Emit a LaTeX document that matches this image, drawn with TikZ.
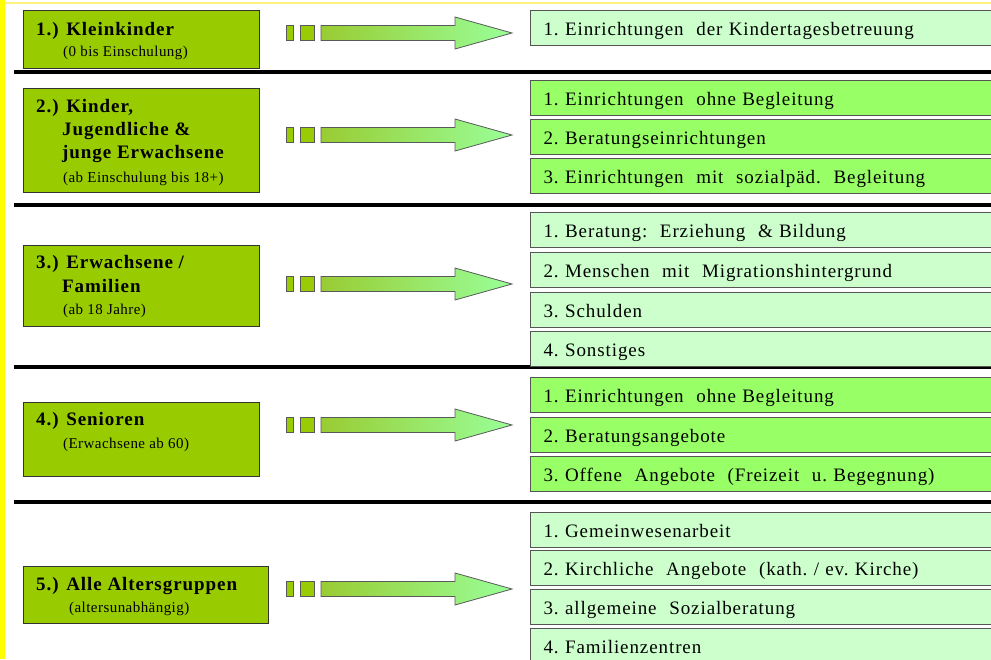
\documentclass[tikz,border=0pt]{standalone}
\usepackage{fontspec}
\setmainfont{Liberation Serif}
\newfontfamily\rightfont[LetterSpace=4.8]{Liberation Serif}
\newfontfamily\titlefont[LetterSpace=5]{Liberation Serif}
\newfontfamily\subfont[LetterSpace=3]{Liberation Serif}
\usetikzlibrary{shadings}
\definecolor{leftgreen}{HTML}{99CC00}
\definecolor{lightbox}{HTML}{CCFFCC}
\definecolor{brightbox}{HTML}{99FF66}
\definecolor{arrowA}{HTML}{99CC33}
\definecolor{arrowB}{HTML}{99FF99}
\definecolor{boxline}{HTML}{555555}
\definecolor{barYellow}{HTML}{FFFF00}
\definecolor{topYellow}{HTML}{FFF380}
\tikzset{
  lbox/.style={draw=black!80, line width=0.9pt, fill=leftgreen, anchor=north west, inner sep=0pt},
  rbox/.style={draw=boxline, line width=1.2pt, anchor=north west, minimum height=35pt,
     text width=440pt, inner xsep=13pt, inner ysep=0pt, align=left,
     text height=17pt, text depth=2pt,
     font=\rightfont\fontsize{19}{22}\selectfont},
  rlight/.style={rbox, fill=lightbox},
  rbright/.style={rbox, fill=brightbox},
  ttl/.style={anchor=base west, inner sep=0pt, font=\titlefont\bfseries\fontsize{19}{22}\selectfont},
  sub/.style={anchor=base west, inner sep=0pt, font=\subfont\fontsize{15}{17}\selectfont},
  rulebar/.style={line width=4pt, black},
  sq/.style={draw=black!65, line width=0.8pt, fill=leftgreen!90!arrowA},
  arr/.style={draw=black!65, line width=0.8pt, left color=arrowA, right color=arrowB},
}
\newcommand\arrowrow[2]{%
  \path[sq] (286,#2-7.5) rectangle (293,#2+7.5);
  \path[sq] (300,#2-7.5) rectangle (314,#2+7.5);
  \path[arr] (321,#2-7.5) -- (455,#2-7.5) -- (455,#2-16) -- (512,#2) -- (455,#2+16) -- (455,#2+7.5) -- (321,#2+7.5) -- cycle;
  \coordinate (#1) at (512,#2);
}
\begin{document}
\begin{tikzpicture}[x=1pt,y=-1pt]
\useasboundingbox (0,0) rectangle (991,659);
\fill[white] (0,0) rectangle (991,659);
% yellow margins
\fill[barYellow] (0,0) rectangle (5,659);
\draw[topYellow, line width=1.2pt] (5,3) -- (991,3);
% rules
\draw[rulebar] (14,72) -- (991,72);
\draw[rulebar] (14,205) -- (991,205);
\draw[rulebar] (14,367) -- (991,367);
\draw[rulebar] (14,502) -- (991,502);
% left boxes
\node[lbox, minimum width=236pt, minimum height=58pt] (L1) at (23,10) {};
\node[lbox, minimum width=236pt, minimum height=104pt] (L2) at (23,88) {};
\node[lbox, minimum width=236pt, minimum height=81pt] (L3) at (23,245) {};
\node[lbox, minimum width=236pt, minimum height=74pt] (L4) at (23,402) {};
\node[lbox, minimum width=245pt, minimum height=57pt] (L5) at (23,566) {};
% left texts
\node[ttl] (t1) at (36,35) {1.) Kleinkinder};
\node[sub] (s1) at (63,56) {(0 bis Einschulung)};
\node[ttl] (t2a) at (36,112) {2.) Kinder,};
\node[ttl] (t2b) at (62,135) {Jugendliche \&};
\node[ttl] (t2c) at (62,158) {junge Erwachsene};
\node[sub] (s2) at (63,182) {(ab Einschulung bis 18+)};
\node[ttl] (t3a) at (36,268) {3.) Erwachsene /};
\node[ttl] (t3b) at (62,292) {Familien};
\node[sub] (s3) at (63,314) {(ab 18 Jahre)};
\node[ttl] (t4) at (36,425) {4.) Senioren};
\node[sub] (s4) at (63,448) {(Erwachsene ab 60)};
\node[ttl] (t5) at (36,590) {5.) Alle Altersgruppen};
\node[sub] (s5) at (69,612) {(altersunabhängig)};
% arrows
\arrowrow{a1}{33}
\arrowrow{a2}{135}
\arrowrow{a3}{284}
\arrowrow{a4}{425}
\arrowrow{a5}{589}
% right boxes
\node[rlight] (r11) at (530,10) {1.\ Einrichtungen\ \ der Kindertagesbetreuung};
\node[rbright] (r21) at (530,80) {1.\ Einrichtungen\ \ ohne Begleitung};
\node[rbright] (r22) at (530,119) {2.\ Beratungseinrichtungen};
\node[rbright] (r23) at (530,158) {3.\ Einrichtungen\ \ mit\ \ sozialpäd.\ \ Begleitung};
\node[rlight] (r31) at (530,212) {1.\ Beratung:\ \ Erziehung\ \ \& Bildung};
\node[rlight] (r32) at (530,252) {2.\ Menschen\ \ mit\ \ Migrationshintergrund};
\node[rlight] (r33) at (530,292) {3.\ Schulden};
\node[rlight] (r34) at (530,331) {4.\ Sonstiges};
\node[rbright] (r41) at (530,377) {1.\ Einrichtungen\ \ ohne Begleitung};
\node[rbright] (r42) at (530,417) {2.\ Beratungsangebote};
\node[rbright] (r43) at (530,456) {3.\ Offene\ \ Angebote\ \ (Freizeit\ \ u.\ Begegnung)};
\node[rlight] (r51) at (530,512) {1.\ Gemeinwesenarbeit};
\node[rlight] (r52) at (530,550) {2.\ Kirchliche\ \ Angebote\ \ (kath.\ / ev.\ Kirche)};
\node[rlight] (r53) at (530,589) {3.\ allgemeine\ \ Sozialberatung};
\node[rlight] (r54) at (530,628) {4.\ Familienzentren};
\end{tikzpicture}
\end{document}
